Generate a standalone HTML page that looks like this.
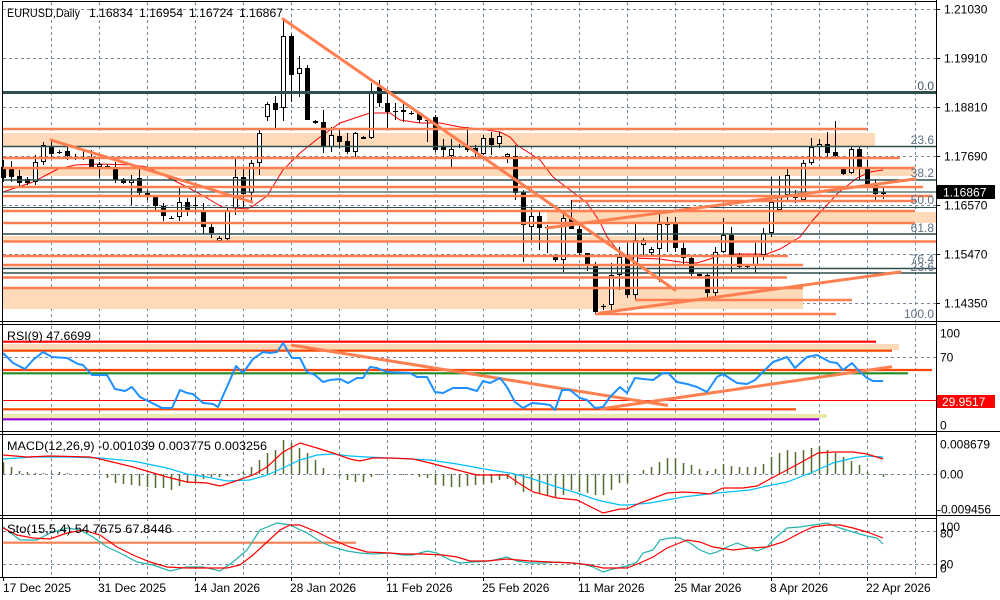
<!DOCTYPE html>
<html><head><meta charset="utf-8"><style>
html,body{margin:0;padding:0;background:#fff;}
svg{display:block;}
text{font-family:"Liberation Sans",sans-serif;font-size:12px;fill:#000;}
</style></head><body>
<svg width="1000" height="600" viewBox="0 0 1000 600" xmlns="http://www.w3.org/2000/svg">
<rect width="1000" height="600" fill="#fff"/>
<!-- grid -->
<g stroke="#778899" stroke-width="1" stroke-dasharray="3,3" fill="none">
<path d="M51.5 2V577M99.5 2V577M147.5 2V577M195.5 2V577M243.5 2V577M291.5 2V577M339.5 2V577M387.5 2V577M435.5 2V577M483.5 2V577M531.5 2V577M579.5 2V577M627.5 2V577M675.5 2V577M723.5 2V577M771.5 2V577M819.5 2V577M867.5 2V577M915.5 2V577"/>
<path d="M3 9.5H936M3 58.5H936M3 107.5H936M3 156.5H936M3 205.5H936M3 254.5H936M3 303.5H936"/>
<path d="M3 357.5H936M3 400.5H936M3 474.5H936M3 531.5H936M3 564.5H936"/>
</g>
<!-- peach bands main -->
<g fill="#FFDAB9">
<rect x="3" y="133" width="872" height="14"/>
<rect x="3" y="168" width="912" height="8"/>
<rect x="547" y="212" width="389" height="11"/>
<rect x="3" y="236" width="792" height="5"/>
<rect x="3" y="287" width="800" height="22"/>
</g>
<!-- MA -->
<polyline fill="none" stroke="#FF0000" stroke-width="1" points="3,192 33,182 58,169 75,165 100,164 133,165 147,167 167,177 187,187 207,198 222,207 247,209 253,206 267,196 283,170 300,153 320,137 340,123 370,113 390,113 400,120 420,123 440,123 460,127 480,129 500,132 510,137 517,145 540,160 553,177 570,190 587,203 600,222 607,237 620,253 630,258 660,259 680,262 697,263 713,258 733,254 767,254 780,249 800,237 813,220 838,193 857,178 870,172 883,170"/>
<!-- candles -->
<path stroke="#000" stroke-width="1" fill="none" d="M3.5 160V182M11.5 161V182M19.5 170V188M27.5 177V185M35.5 155V185M43.5 142V165M51.5 141V157M59.5 150V154M67.5 147V160M75.5 154V160M83.5 150V160M91.5 150V168M99.5 162V178M107.5 164V167M115.5 162V183M123.5 178V184M131.5 175V205M139.5 167V197M147.5 190V200M155.5 195V212M163.5 203V221M171.5 216V219M179.5 188V221M187.5 198V216M195.5 197V213M203.5 203V234M211.5 224V238M219.5 236V242M227.5 207V241M235.5 157V215M243.5 168V207M251.5 160V202M259.5 130V175M267.5 102V121M275.5 96V128M283.5 19V121M291.5 34V102M299.5 56V97M307.5 65V120M315.5 120V124M323.5 110V153M331.5 127V152M339.5 130V148M347.5 133V154M355.5 132V157M363.5 136V139M371.5 83V139M379.5 80V107M387.5 93V128M395.5 103V120M403.5 103V122M411.5 111V115M419.5 112V123M427.5 119V142M435.5 115V152M443.5 139V157M451.5 139V167M459.5 144V148M467.5 127V152M475.5 145V157M483.5 135V155M491.5 132V155M499.5 132V148M507.5 153V163M515.5 145V200M523.5 190V262M531.5 208V242M539.5 212V250M547.5 225V253M555.5 254V262M563.5 213V272M571.5 200V229M579.5 225V255M587.5 253V271M595.5 262V313M603.5 304V310M611.5 263V312M619.5 247V290M627.5 243V298M635.5 224V300M643.5 238V255M651.5 247V256M659.5 213V282M667.5 217V252M675.5 217V252M683.5 243V265M691.5 255V276M699.5 273V277M707.5 273V298M715.5 247V297M723.5 218V253M731.5 227V272M739.5 253V268M747.5 265V268M755.5 243V273M763.5 228V260M771.5 177V237M779.5 176V212M787.5 168V200M795.5 190V203M803.5 160V202M811.5 138V165M819.5 139V157M827.5 132V157M835.5 121V157M843.5 168V175M851.5 146V174M859.5 147V180M867.5 160V184M875.5 179V200M883.5 188V199"/>
<path fill="#000" d="M1 167h5v11h-5zM9 168h5v9h-5zM17 176h5v7h-5zM25 179h5v4h-5zM49 146h5v8h-5zM57 152h5v1h-5zM65 151h5v5h-5zM73 157h5v1h-5zM81 157h5v1h-5zM89 158h5v9h-5zM105 166h5v1h-5zM113 167h5v13h-5zM121 179h5v4h-5zM137 178h5v15h-5zM145 193h5v4h-5zM153 197h5v9h-5zM161 206h5v10h-5zM169 218h5v1h-5zM185 202h5v8h-5zM193 205h5v1h-5zM201 212h5v15h-5zM209 227h5v6h-5zM241 177h5v17h-5zM273 103h5v7h-5zM289 36h5v39h-5zM305 68h5v52h-5zM313 121h5v2h-5zM321 122h5v25h-5zM337 136h5v6h-5zM345 141h5v11h-5zM361 137h5v2h-5zM377 87h5v16h-5zM385 103h5v9h-5zM393 111h5v1h-5zM401 110h5v2h-5zM409 113h5v1h-5zM417 113h5v7h-5zM425 120h5v1h-5zM433 117h5v33h-5zM441 146h5v4h-5zM457 146h5v1h-5zM465 146h5v4h-5zM473 148h5v4h-5zM489 138h5v7h-5zM513 156h5v37h-5zM521 192h5v33h-5zM537 216h5v12h-5zM545 227h5v1h-5zM553 257h5v3h-5zM569 219h5v10h-5zM577 229h5v24h-5zM585 253h5v13h-5zM593 265h5v47h-5zM601 306h5v1h-5zM625 256h5v39h-5zM665 224h5v1h-5zM673 224h5v24h-5zM681 248h5v10h-5zM689 258h5v16h-5zM697 274h5v2h-5zM705 275h5v18h-5zM729 235h5v22h-5zM737 257h5v10h-5zM745 266h5v1h-5zM793 197h5v1h-5zM825 144h5v9h-5zM833 152h5v4h-5zM841 169h5v5h-5zM857 149h5v20h-5zM865 169h5v15h-5zM873 183h5v11h-5z"/>
<path fill="#fff" stroke="#000" stroke-width="1" d="M33.5 162.5h4v19h-4zM41.5 145.5h4v16h-4zM97.5 164.5h4v2h-4zM129.5 180.5h4v2h-4zM177.5 202.5h4v14h-4zM217.5 238.5h4v2h-4zM225.5 210.5h4v28h-4zM233.5 177.5h4v30h-4zM249.5 163.5h4v29h-4zM257.5 133.5h4v29h-4zM265.5 104.5h4v12h-4zM281.5 36.5h4v71h-4zM297.5 68.5h4v5h-4zM329.5 135.5h4v11h-4zM353.5 133.5h4v18h-4zM369.5 92.5h4v45h-4zM449.5 149.5h4v6h-4zM481.5 138.5h4v15h-4zM497.5 136.5h4v7h-4zM505.5 154.5h4v2h-4zM529.5 216.5h4v10h-4zM561.5 218.5h4v41h-4zM609.5 275.5h4v29h-4zM617.5 257.5h4v17h-4zM633.5 240.5h4v54h-4zM641.5 240.5h4v4h-4zM649.5 249.5h4v3h-4zM657.5 224.5h4v24h-4zM713.5 252.5h4v40h-4zM721.5 235.5h4v16h-4zM753.5 255.5h4v10h-4zM761.5 233.5h4v21h-4zM769.5 202.5h4v30h-4zM777.5 195.5h4v14h-4zM785.5 175.5h4v19h-4zM801.5 163.5h4v36h-4zM809.5 147.5h4v15h-4zM817.5 144.5h4v2h-4zM849.5 149.5h4v23h-4zM881.5 192.5h4v1h-4z"/>
<!-- fib / dark lines -->
<g stroke="#2F4F4F" fill="none">
<path stroke-width="3" d="M3 92.5H936"/>
<path stroke-width="1.6" d="M3 146.5H936M3 180H936M3 234H936M3 268.5H936M3 273H936"/>
<path stroke-width="1" d="M3 207.5H936"/>
</g>
<path stroke="#3F5F5F" stroke-width="1.2" d="M3 192H936"/>
<!-- orange horizontal lines -->
<g stroke="#FF7F50" stroke-width="2.4" fill="none">
<path d="M3 129H867M3 158H900M3 168H915M3 187H923M3 196H932M572 201H915M3 211H915M3 223H915M3 241.5H936M3 256H788M3 265H803M3 277.5H787M635 300H852M595 314H836M3 288H803"/>
</g>
<!-- trendlines -->
<g stroke="#FF7F50" stroke-width="3" fill="none" stroke-linecap="round">
<path d="M51 140L252 202"/>
<path d="M283 19L675 290"/>
<path d="M547 228L915 179"/>
<path d="M600 313L900 272"/>
</g>
<!-- RSI panel -->
<rect x="3" y="344" width="896" height="6" fill="#FFDAB9"/>
<rect x="3" y="414" width="824" height="4" fill="#EEE8AA"/>
<g fill="none">
<path stroke="#FF0000" stroke-width="2.2" d="M3 341.7H876"/>
<path stroke="#FF4500" stroke-width="2.2" d="M3 350.7H892M3 370H932M3 409.3H796"/>
<path stroke="#228B22" stroke-width="2.2" d="M3 373.3H908"/>
<path stroke="#FF0000" stroke-width="1" d="M3 400.5H936"/>
<path stroke="#9400D3" stroke-width="2.2" d="M3 419.3H819"/>
<path stroke="#FF7F50" stroke-width="3" d="M291 345L668 405.5M600 409L892 366.7"/>
<polyline stroke="#1E90FF" stroke-width="2" stroke-linejoin="round" points="3,353 13,363 25,369 33,360 43,352 52,357 67,358 78,364 83,365 92,375 100,375 107,375 115,389 125,391 132,387 140,397 148,401 162,408 172,408 180,390 187,393 193,394 203,403 213,404 218,407 230,380 236,366 243,373 253,359 263,352 270,353 277,352 283,343 292,358 300,358 307,372 315,375 323,382 330,380 340,379 348,383 357,378 363,378 370,367 377,368 387,372 410,373 417,377 427,377 435,392 443,393 453,388 467,388 477,391 483,381 490,383 500,378 507,387 515,402 523,408 532,403 543,404 550,405 555,410 562,390 570,390 580,398 587,400 595,408 603,407 610,397 620,387 627,393 635,378 643,379 653,380 663,373 668,373 677,382 687,384 697,387 707,392 717,377 723,374 737,383 747,384 755,380 763,372 773,362 787,357 795,368 807,357 817,355 830,362 837,363 843,370 852,363 858,370 867,378 873,381 883,381"/>
</g>
<!-- MACD panel -->
<path stroke="#556B2F" stroke-width="1.5" fill="none" d="M3.5 474V462M11.5 474V467M19.5 474V471M27.5 474V472M35.5 474V473M43.5 474V473M51.5 474V473M59.5 474V472M67.5 474V473M107.5 474V478M115.5 474V483M123.5 474V484M131.5 474V485M139.5 474V486M147.5 474V487M155.5 474V488M163.5 474V488M171.5 474V490M179.5 474V486M187.5 474V483M195.5 474V482M203.5 474V479M211.5 474V477M219.5 474V477M227.5 474V476M243.5 474V472M251.5 474V467M259.5 474V460M267.5 474V453M275.5 474V450M283.5 474V440M291.5 474V443M299.5 474V448M307.5 474V453M315.5 474V460M323.5 474V468M339.5 474V476M347.5 474V480M355.5 474V482M363.5 474V482M371.5 474V477M379.5 474V475M403.5 474V475M411.5 474V475M419.5 474V477M427.5 474V478M435.5 474V485M443.5 474V486M451.5 474V487M459.5 474V487M467.5 474V486M475.5 474V485M483.5 474V484M491.5 474V483M499.5 474V480M507.5 474V479M515.5 474V485M523.5 474V492M531.5 474V490M539.5 474V493M547.5 474V495M555.5 474V498M563.5 474V495M571.5 474V490M579.5 474V492M587.5 474V493M595.5 474V495M603.5 474V495M611.5 474V490M619.5 474V483M627.5 474V483M643.5 474V470M651.5 474V467M659.5 474V462M667.5 474V458M675.5 474V458M683.5 474V463M691.5 474V465M699.5 474V469M707.5 474V471M715.5 474V469M723.5 474V464M731.5 474V466M739.5 474V467M747.5 474V467M755.5 474V467M763.5 474V464M771.5 474V457M779.5 474V453M787.5 474V450M795.5 474V452M803.5 474V450M811.5 474V448M819.5 474V446M827.5 474V450M835.5 474V453M843.5 474V457M851.5 474V461M859.5 474V465M867.5 474V472M883.5 474V477"/>
<polyline fill="none" stroke="#00BFFF" stroke-width="1.2" points="3,459 33,457 67,457 100,458 133,461 167,468 187,474 207,477 227,481 250,480 267,475 283,468 300,460 317,455 333,454 350,456 367,457 390,458 430,460 457,464 490,470 510,473 530,478 557,487 577,493 597,500 620,505 627,505 650,503 683,497 717,493 750,490 767,486 787,482 813,472 833,463 853,458 867,456 883,457"/>
<polyline fill="none" stroke="#FF0000" stroke-width="1.2" points="3,455 27,457 50,456 90,457 100,459 133,467 150,472 167,477 187,482 207,483 220,486 233,482 253,475 267,467 283,452 300,443 317,448 333,453 350,459 360,461 373,458 390,458 413,459 430,463 457,470 477,475 507,475 517,482 533,492 557,498 577,500 597,510 603,513 620,509 627,509 640,503 667,493 683,492 700,493 710,494 723,488 743,488 757,486 770,479 787,470 800,463 818,453 833,452 853,452 867,454 883,459"/>
<!-- Stoch panel -->
<path stroke="#FF7F50" stroke-width="2.2" d="M3 542.7H356"/>
<polyline fill="none" stroke="#20B2AA" stroke-width="1.2" points="3,527 20,540 37,540 50,533 67,528 80,530 93,537 107,547 120,553 137,562 153,565 170,571 187,567 203,567 220,571 233,562 247,550 260,530 277,523 290,525 307,533 323,543 333,547 347,551 360,553 373,554 390,553 403,555 413,555 427,551 437,553 450,560 460,563 473,562 490,561 507,557 517,561 530,563 543,563 557,562 570,563 583,564 593,567 603,572 613,569 627,566 637,562 643,553 653,550 660,540 670,538 680,538 690,543 700,550 710,554 717,552 727,547 737,543 747,547 757,551 767,547 773,540 787,528 800,527 813,525 827,523 840,528 853,532 867,536 877,538 883,544"/>
<polyline fill="none" stroke="#FF0000" stroke-width="1.2" points="3,528 17,535 33,538 50,539 67,533 83,530 100,535 117,547 133,555 150,562 167,567 187,568 207,568 227,568 240,565 253,555 267,542 280,530 290,525 300,525 317,532 333,540 350,547 367,552 390,553 403,554 423,554 443,555 457,557 470,561 487,561 507,559 530,561 550,562 573,563 590,565 603,568 613,568 627,568 640,563 653,557 667,548 687,540 700,542 713,547 733,550 750,548 767,547 783,542 800,533 813,527 827,525 840,525 853,528 867,532 883,538"/>
<!-- borders -->
<g stroke="#000" stroke-width="1" fill="none">
<path d="M3 1.5H936M2.5 1V577M936.5 0V577"/>
<path d="M0 321.5H1000M0 324.5H937M0 431.5H1000M0 434.5H937M0 515.5H1000M0 518.5H937M0 577.5H937"/>
<path d="M936 9.5h4M936 58.5h4M936 107.5h4M936 156.5h4M936 205.5h4M936 254.5h4M936 303.5h4"/>
<path d="M3.5 577V581M99.5 577V581M195.5 577V581M291.5 577V581M387.5 577V581M483.5 577V581M579.5 577V581M675.5 577V581M771.5 577V581M867.5 577V581"/>
</g>
<!-- labels -->
<text x="7" y="17" textLength="73" lengthAdjust="spacingAndGlyphs">EURUSD,Daily</text>
<text x="89" y="17" textLength="44" lengthAdjust="spacingAndGlyphs">1.16834</text>
<text x="139" y="17" textLength="44" lengthAdjust="spacingAndGlyphs">1.16954</text>
<text x="189" y="17" textLength="44" lengthAdjust="spacingAndGlyphs">1.16724</text>
<text x="239" y="17" textLength="44" lengthAdjust="spacingAndGlyphs">1.16867</text>
<text x="7" y="340" textLength="84" lengthAdjust="spacingAndGlyphs">RSI(9) 47.6699</text>
<text x="7" y="450" textLength="260" lengthAdjust="spacingAndGlyphs">MACD(12,26,9) -0.001039 0.003775 0.003256</text>
<text x="7" y="533" textLength="165" lengthAdjust="spacingAndGlyphs">Sto(15,5,4) 54.7675 67.8446</text>
<text x="934" y="90" text-anchor="end" style="fill:#3F5565">0.0</text>
<text x="934" y="144" text-anchor="end" style="fill:#5F7085">23.6</text>
<text x="934" y="177" text-anchor="end" style="fill:#5F7085">38.2</text>
<text x="934" y="204" text-anchor="end" style="fill:#5F7085">50.0</text>
<text x="934" y="232" text-anchor="end" style="fill:#5F7085">61.8</text>
<text x="934" y="263" text-anchor="end" style="fill:#5F7085">76.4</text>
<text x="934" y="271" text-anchor="end" style="fill:#5F7085">23.6</text>
<text x="934" y="318" text-anchor="end" style="fill:#5F7085">100.0</text>
<text x="944" y="13.5">1.21030</text>
<text x="944" y="62.5">1.19910</text>
<text x="944" y="111.5">1.18810</text>
<text x="944" y="160.5">1.17690</text>
<text x="944" y="209.5">1.16570</text>
<text x="944" y="258.5">1.15470</text>
<text x="944" y="307.5">1.14350</text>
<rect x="937" y="185" width="58" height="14" fill="#000"/>
<text x="943" y="196.5" style="fill:#fff">1.16867</text>
<text x="940" y="337.5">100</text>
<text x="940" y="361.5">70</text>
<text x="940" y="429.5">0</text>
<rect x="937" y="395" width="58" height="13" fill="#FF0000"/>
<text x="942" y="406" style="fill:#fff">29.9517</text>
<text x="940" y="448.5">0.008679</text>
<text x="940" y="478.5">0.00</text>
<text x="937" y="513.5">-0.009456</text>
<text x="940" y="531">100</text>
<text x="940" y="537.5">80</text>
<text x="940" y="568.5">20</text>
<text x="940" y="572.5">0</text>
<text x="3" y="592">17 Dec 2025</text>
<text x="98" y="592">31 Dec 2025</text>
<text x="194" y="592">14 Jan 2026</text>
<text x="290" y="592">28 Jan 2026</text>
<text x="386" y="592">11 Feb 2026</text>
<text x="482" y="592">25 Feb 2026</text>
<text x="578" y="592">11 Mar 2026</text>
<text x="674" y="592">25 Mar 2026</text>
<text x="770" y="592">8 Apr 2026</text>
<text x="866" y="592">22 Apr 2026</text>
</svg>
</body></html>
